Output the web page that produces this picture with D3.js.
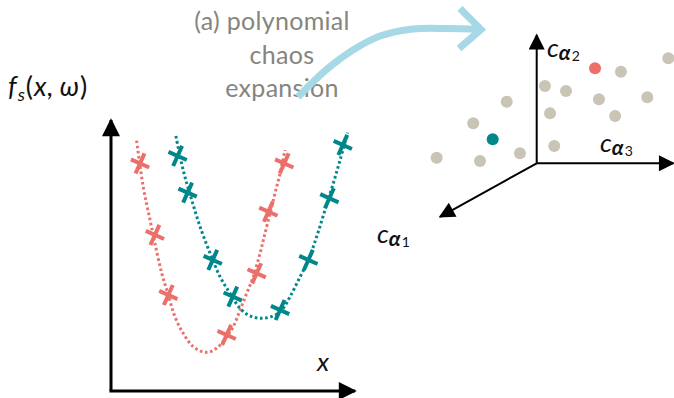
<!DOCTYPE html>
<html>
<head>
<meta charset="utf-8">
<script src="https://cdn.jsdelivr.net/npm/d3@7/dist/d3.min.js"></script>
<style>
  html, body { margin: 0; padding: 0; background: #fff; }
  svg { display: block; }
  text { font-family: Lato, "Open Sans", sans-serif; }
</style>
</head>
<body>
<svg id="chart" width="674" height="398"></svg>
<script>
// ---- Left panel: two stochastic realisations f_s(x, ω) ----
const redCurveX = [1.05, 1.32, 1.60, 1.80, 2.08, 2.35, 2.62, 2.96, 3.37, 3.78, 4.06, 4.40, 4.74, 5.01, 5.29, 5.56, 5.83, 6.11, 6.31, 6.52, 6.72, 6.93, 7.13];
const redCurveY = [9.23, 7.51, 6.27, 5.40, 4.28, 3.47, 2.66, 2.04, 1.54, 1.35, 1.35, 1.54, 1.91, 2.29, 2.91, 3.53, 4.15, 5.03, 5.77, 6.52, 7.26, 8.01, 8.88];
const tealCurveX = [2.66, 2.83, 3.03, 3.31, 3.65, 4.06, 4.47, 4.88, 5.29, 5.70, 6.18, 6.65, 7.00, 7.34, 7.75, 8.09, 8.43, 8.77, 9.11, 9.39, 9.70];
const tealCurveY = [9.40, 8.63, 7.88, 7.01, 6.02, 5.03, 4.15, 3.53, 2.97, 2.69, 2.60, 2.69, 2.91, 3.41, 4.15, 4.78, 5.65, 6.64, 7.64, 8.51, 9.53];

// noisy samples of each realisation
const redSampleX = [1.19, 1.80, 2.35, 4.74, 5.97, 6.45, 7.10];
const redSampleY = [8.38, 5.71, 3.47, 1.98, 4.28, 6.58, 8.38];
const tealSampleX = [2.73, 3.14, 4.17, 4.99, 6.93, 8.09, 8.95, 9.50];
const tealSampleY = [8.66, 7.29, 4.78, 3.41, 2.91, 4.78, 7.08, 9.07];

// ---- Right panel: projected PCE coefficient space ----
const coefU = [-2.22, -4.70, -7.41, -4.20, -1.24, 0.61, 2.17, 0.99, 1.30, 6.24, 4.61, 5.81, 8.19, 9.75, 4.32, -3.26];
const coefV = [4.56, 2.96, 0.41, 0.17, 0.74, 5.73, 5.36, 3.70, 1.28, 6.79, 4.74, 3.50, 4.89, 7.78, 7.04, 1.78];
const coefKind = ["other", "other", "other", "other", "other", "other", "other", "other", "other", "other", "other", "other", "other", "other", "red", "teal"];

// coefficient axes: tips in the projected plane
const axisNames = ["1", "2", "3"];
const axisTipU = [-7.16, 0, 10.12];
const axisTipV = [-3.96, 9.5, 0];

const titleLines = ["(a) polynomial", "chaos", "expansion"];

const RED = "#ec6f69";
const TEAL = "#00878a";
const GREY = "#c9c4b6";
const ARROW = "#a6d8e6";

const svg = d3.select("#chart");

// arrowhead markers for the axes
const defs = svg.append("defs");
defs.append("marker")
  .attr("id", "headBig").attr("viewBox", "0 0 10 10")
  .attr("refX", 9).attr("refY", 5)
  .attr("markerWidth", 6.5).attr("markerHeight", 6)
  .attr("markerUnits", "strokeWidth").attr("orient", "auto")
  .append("path").attr("d", "M0,0 L10,5 L0,10 Z").attr("fill", "#000");
defs.append("marker")
  .attr("id", "headSmall").attr("viewBox", "0 0 10 10")
  .attr("refX", 9).attr("refY", 5)
  .attr("markerWidth", 10).attr("markerHeight", 8)
  .attr("markerUnits", "strokeWidth").attr("orient", "auto")
  .append("path").attr("d", "M0,0 L10,5 L0,10 Z").attr("fill", "#000");

// ---------- left panel ----------
const x = d3.scaleLinear().domain([0, 10]).range([111, 355]);
const y = d3.scaleLinear().domain([0, 10]).range([388, 120]);
const axisY0 = 391;

const left = svg.append("g");

// axes
left.append("line")
  .attr("x1", x(0)).attr("y1", axisY0).attr("x2", x(0)).attr("y2", y(10))
  .attr("stroke", "#000").attr("stroke-width", 3).attr("marker-end", "url(#headBig)");
left.append("line")
  .attr("x1", x(0) - 1.5).attr("y1", axisY0).attr("x2", x(10)).attr("y2", axisY0)
  .attr("stroke", "#000").attr("stroke-width", 3).attr("marker-end", "url(#headBig)");

const line = d3.line().x(d => x(d[0])).y(d => y(d[1])).curve(d3.curveCatmullRom.alpha(0.5));

const series = [
  { color: RED, cx: redCurveX, cy: redCurveY, sx: redSampleX, sy: redSampleY },
  { color: TEAL, cx: tealCurveX, cy: tealCurveY, sx: tealSampleX, sy: tealSampleY }
];

series.forEach(s => {
  const pts = s.cx.map((v, i) => [v, s.cy[i]]);
  left.append("path")
    .attr("d", line(pts))
    .attr("fill", "none")
    .attr("stroke", s.color)
    .attr("stroke-width", 3)
    .attr("stroke-dasharray", "2.6,2.6");
});

// crosses: a plus rotated clockwise
const crossPath = "M-10,0 L10,0 M0,-11 L0,11";
series.forEach(s => {
  left.selectAll(null)
    .data(s.sx.map((v, i) => [v, s.sy[i]]))
    .join("path")
    .attr("d", crossPath)
    .attr("transform", d => `translate(${x(d[0])},${y(d[1])}) rotate(24)`)
    .attr("fill", "none")
    .attr("stroke", s.color)
    .attr("stroke-width", 4);
});

// labels
const fLab = left.append("text")
  .attr("x", 8).attr("y", 96)
  .attr("font-size", 27).attr("fill", "#111");
fLab.append("tspan").attr("font-style", "italic").text("f");
fLab.append("tspan").attr("font-style", "italic").attr("font-size", 18).attr("dx", 1).attr("dy", 5).text("s");
fLab.append("tspan").attr("dy", -5).attr("dx", 1).text("(");
fLab.append("tspan").attr("font-style", "italic").attr("dx", 1).text("x");
fLab.append("tspan").text(", ");
fLab.append("tspan").attr("font-style", "italic").text("ω");
fLab.append("tspan").attr("dx", 1).text(")");

left.append("text")
  .attr("x", 323).attr("y", 371)
  .attr("text-anchor", "middle")
  .attr("font-size", 26).attr("font-style", "italic").attr("fill", "#111")
  .text("x");

// ---------- title ----------
const title = svg.append("g");
const titleX = [272, 282, 282];
const titleY = [30, 64, 97];
titleLines.forEach((t, i) => {
  title.append("text")
    .attr("x", titleX[i]).attr("y", titleY[i])
    .attr("text-anchor", "middle")
    .attr("font-size", 25).attr("letter-spacing", 0.3).attr("fill", "#85857d")
    .text(t);
});

// curved light-blue arrow
const arrowCurve = [[298, 97], [326, 70], [353, 50], [380, 36], [413, 29], [447, 28.5], [480, 29.5]];
svg.append("path")
  .attr("d", d3.line().curve(d3.curveCatmullRom)(arrowCurve))
  .attr("fill", "none").attr("stroke", ARROW).attr("stroke-width", 7).attr("stroke-linecap", "butt");
svg.append("path")
  .attr("d", "M-21,-21 L0,0 L-22,19")
  .attr("transform", "translate(481,29.5)")
  .attr("fill", "none").attr("stroke", ARROW).attr("stroke-width", 7)
  .attr("stroke-linejoin", "miter");

// ---------- right panel ----------
const u = d3.scaleLinear().domain([0, 10]).range([536.7, 671.7]);
const v = d3.scaleLinear().domain([0, 10]).range([163.3, 28.3]);

const right = svg.append("g");

right.selectAll("circle")
  .data(coefU.map((d, i) => ({ u: d, v: coefV[i], k: coefKind[i] })))
  .join("circle")
  .attr("cx", d => u(d.u)).attr("cy", d => v(d.v))
  .attr("r", 6)
  .attr("fill", d => d.k === "red" ? RED : d.k === "teal" ? TEAL : GREY);

axisNames.forEach((n, i) => {
  right.append("line")
    .attr("x1", u(0)).attr("y1", v(0))
    .attr("x2", u(axisTipU[i])).attr("y2", v(axisTipV[i]))
    .attr("stroke", "#000").attr("stroke-width", 2)
    .attr("marker-end", "url(#headSmall)");
});

const labelPos = [[377, 243], [547, 57], [600, 152]];
axisNames.forEach((n, i) => {
  const t = right.append("text")
    .attr("x", labelPos[i][0]).attr("y", labelPos[i][1])
    .attr("font-size", 26).attr("fill", "#111");
  t.append("tspan").attr("font-style", "italic").text("c");
  t.append("tspan").attr("font-weight", "bold").attr("font-style", "italic").attr("font-size", 21).attr("dy", 3).text("α");
  t.append("tspan").attr("font-size", 14).attr("dx", 1).attr("dy", 1).text(n);
});
</script>
</body>
</html>
